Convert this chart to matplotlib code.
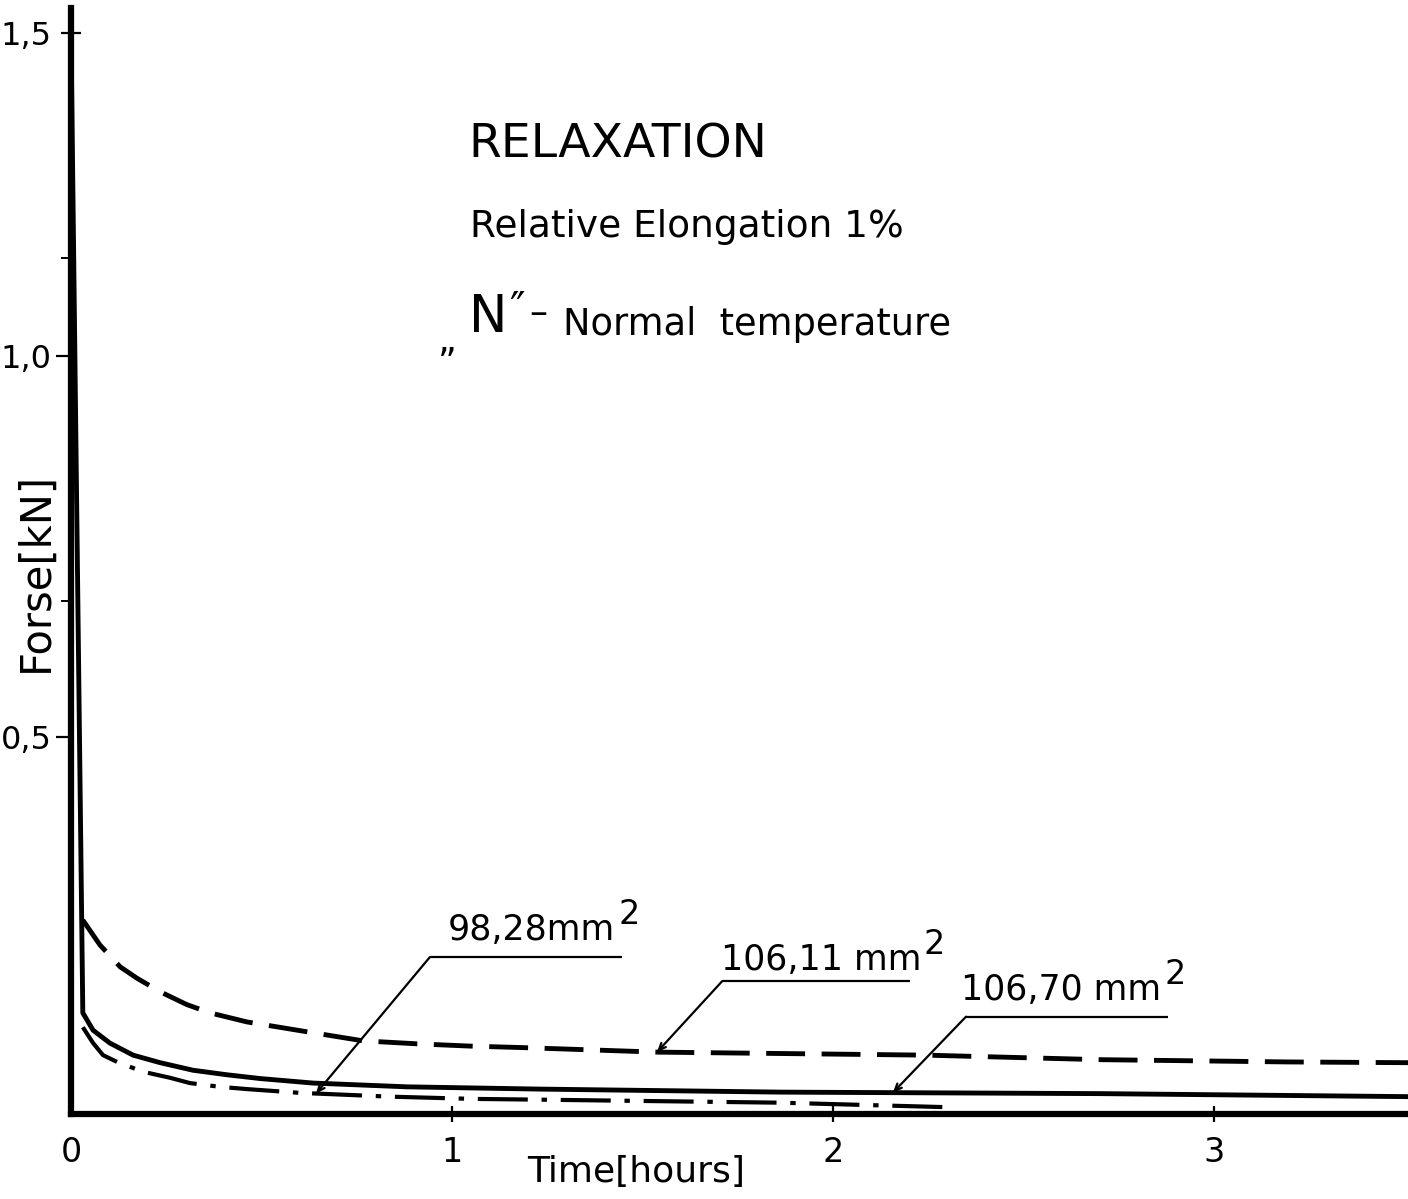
import numpy as np
import matplotlib
matplotlib.use("Agg")
import matplotlib.pyplot as plt

# ---- data: force relaxation at 1 % elongation, normal temperature ----
# time in hours, force in kN

# 106,70 mm^2 (solid) - includes the initial drop from the loading force
time_10670 = [0.0, 0.031, 0.058, 0.102, 0.163, 0.234, 0.320, 0.409, 0.496,
              0.635, 0.882, 1.231, 1.861, 2.701, 3.509]
force_10670 = [1.50, 0.134, 0.111, 0.094, 0.078, 0.068, 0.058, 0.052, 0.047,
               0.041, 0.036, 0.033, 0.029, 0.027, 0.023]

# 106,11 mm^2 (dashed)
time_10611 = [0.031, 0.076, 0.129, 0.173, 0.234, 0.304, 0.365, 0.462, 0.619,
              0.766, 0.908, 1.047, 1.186, 1.538, 2.244, 2.701, 3.192, 3.509]
force_10611 = [0.257, 0.224, 0.195, 0.180, 0.162, 0.145, 0.134, 0.122, 0.109,
               0.097, 0.093, 0.090, 0.088, 0.082, 0.078, 0.072, 0.069, 0.068]

# 98,28 mm^2 (dash-dot)
time_9828 = [0.031, 0.058, 0.084, 0.121, 0.189, 0.260, 0.312, 0.391, 0.462,
             0.601, 0.837, 1.055, 1.231, 1.861, 2.302]
force_9828 = [0.115, 0.094, 0.078, 0.069, 0.056, 0.048, 0.041, 0.036, 0.033,
              0.028, 0.023, 0.020, 0.019, 0.015, 0.009]

x_ticks = [0, 1, 2, 3]
x_ticklabels = ["0", "1", "2", "3"]
y_ticks = [0.5, 1.0, 1.5]
y_ticklabels = ["0,5", "1,0", "1,5"]
y_minor_ticks = [0.678, 1.153]

# ordinate as drawn: the 0.5 kN steps are not equally long
Y_VALS = [0.0, 0.5, 1.0, 1.5, 1.6]
Y_DRAWN = [0.0, 377.0, 757.0, 1080.0, 1144.6]


def y_forward(v):
    return np.interp(v, Y_VALS, Y_DRAWN)


def y_inverse(p):
    return np.interp(p, Y_DRAWN, Y_VALS)


plt.rcParams["font.family"] = ["DejaVu Sans"]
plt.rcParams["mathtext.default"] = "regular"

W, H = 1408, 1199
fig = plt.figure(figsize=(W / 100, H / 100), dpi=100)
fig.patch.set_facecolor("white")


def fx(px):
    return px / W


def fy(py):
    return 1 - py / H


ax = fig.add_axes([fx(71), 85 / H, (W - 71) / W, (1114 - 8) / H])
ax.set_yscale("function", functions=(y_forward, y_inverse))
ax.set_xlim(0, 3.509)
ax.set_ylim(0, 1.539)

# curves
ax.plot(time_10670, force_10670, color="black", lw=3.5,
        solid_capstyle="round", solid_joinstyle="round")
ax.plot(time_10611, force_10611, color="black", lw=3.5,
        linestyle=(0, (8.0, 3.4)), dash_capstyle="butt")
ax.plot(time_9828, force_9828, color="black", lw=3.0,
        linestyle=(0, (12.0, 3.3, 1.3, 3.3)), dash_capstyle="butt")

# axes frame
for side in ("top", "right"):
    ax.spines[side].set_visible(False)
for side in ("left", "bottom"):
    ax.spines[side].set_linewidth(4.5)
    ax.spines[side].set_capstyle("projecting")

ax.set_xticks(x_ticks)
ax.set_xticklabels(x_ticklabels)
ax.set_yticks(y_ticks)
ax.set_yticklabels(y_ticklabels)
ax.set_yticks(y_minor_ticks, minor=True)
ax.tick_params(axis="x", which="major", direction="inout", length=11,
               width=1.6, pad=10, labelsize=24)
ax.tick_params(axis="x", which="minor", length=0)
ax.tick_params(axis="y", which="major", direction="out", length=11,
               width=1.6, pad=3, labelsize=23)
ax.tick_params(axis="y", which="minor", direction="out", length=7, width=1.4)
ax.xaxis.get_major_ticks()[0].tick1line.set_visible(False)
top_tick = ax.yaxis.get_major_ticks()[2]
top_tick.tick1line.set_marker("_")
top_tick.tick1line.set_markersize(14)

ax.set_ylabel("Forse[kN]", fontsize=30)
ax.yaxis.set_label_coords(-0.011, 0.49)
ax.set_xlabel("Time[hours]", fontsize=26)
ax.xaxis.set_label_coords(0.4226, -0.037)

# leader lines to the curves
leaders = [
    # label, curve times, curve forces, tip time, elbow (t, F), end time, text (t, F)
    ("98,28mm", time_9828, force_9828, 0.643, (0.942, 0.208), 1.446, (0.990, 0.231)),
    ("106,11 mm", time_10611, force_10611, 1.538, (1.709, 0.176), 2.202, (1.705, 0.191)),
    ("106,70 mm", time_10670, force_10670, 2.157, (2.349, 0.129), 2.879, (2.337, 0.151)),
]
for label, ts, fs, tip_t, (et, ef), end_t, (tt, tf) in leaders:
    tip_f = float(np.interp(tip_t, ts, fs))
    ax.annotate("", xy=(tip_t, tip_f), xytext=(et, ef),
                arrowprops=dict(arrowstyle="->,head_length=0.5,head_width=0.22",
                                lw=1.6, color="black", shrinkA=0, shrinkB=0))
    ax.plot([et, end_t], [ef, ef], color="black", lw=1.6,
            solid_capstyle="butt")
    txt = ax.text(tt, tf, label, fontsize=25, ha="left", va="baseline")
    ax.annotate("2", xy=(1.0, 0.95), xycoords=txt, xytext=(2, 0),
                textcoords="offset points", fontsize=24, ha="left",
                va="center")

# heading
fig.text(fx(468), fy(158), "RELAXATION", fontsize=34, va="baseline")
fig.text(fx(470), fy(237), "Relative Elongation 1%", fontsize=27,
         va="baseline")
fig.text(fx(438), fy(352), "\u201e", fontsize=26, va="baseline")
fig.text(fx(469), fy(332), "N", fontsize=37, va="baseline")
fig.text(fx(509), fy(322), "\u2033", fontsize=30, va="baseline")
fig.text(fx(529), fy(324), "\u2013", fontsize=26, va="baseline")
fig.text(fx(563), fy(335), "Normal  temperature", fontsize=26.5,
         va="baseline")

fig.savefig("out.png", dpi=100, facecolor="white")
